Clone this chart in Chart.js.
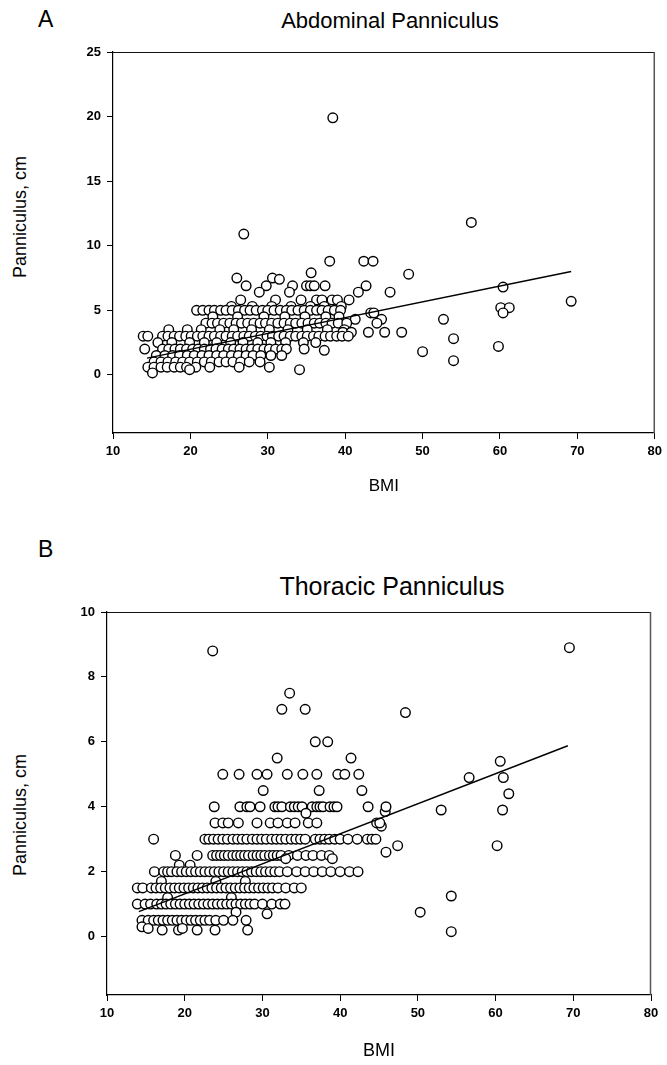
<!DOCTYPE html>
<html>
<head>
<meta charset="utf-8">
<script src="https://cdn.jsdelivr.net/npm/chart.js@4/dist/chart.umd.min.js"></script>
<style>
  html, body { margin: 0; padding: 0; background: #fff; }
  body { width: 667px; height: 1065px; position: relative; overflow: hidden; font-family: "Liberation Sans", Arial, sans-serif; color: #000; }
  .panel { position: absolute; }
  .lbl { position: absolute; white-space: nowrap; line-height: 1; }
  .ytitle { position: absolute; white-space: nowrap; line-height: 1; transform: translate(-50%, -50%) rotate(-90deg); font-size: 18px; }
</style>
</head>
<body>
<div class="lbl" id="letterA" style="left:38px; top:8px; font-size:23px;">A</div>
<div class="lbl" id="titleA" style="left:390px; top:10px; font-size:22px; transform:translateX(-50%);">Abdominal Panniculus</div>
<div class="ytitle" style="left:20px; top:217px;">Panniculus, cm</div>
<div class="panel" style="left:0; top:0; width:667px; height:500px;"><canvas id="chartA" width="667" height="500"></canvas></div>

<div class="lbl" id="letterB" style="left:38px; top:538px; font-size:23px;">B</div>
<div class="lbl" id="titleB" style="left:392px; top:574px; font-size:25px; transform:translateX(-50%);">Thoracic Panniculus</div>
<div class="ytitle" style="left:20px; top:815px;">Panniculus, cm</div>
<div class="panel" style="left:0; top:560px; width:667px; height:505px;"><canvas id="chartB" width="667" height="505"></canvas></div>

<script>
// ---------- tick labels ----------
const bmiTicks = [10, 20, 30, 40, 50, 60, 70, 80];
const abdTicks = [0, 5, 10, 15, 20, 25];
const thorTicks = [0, 2, 4, 6, 8, 10];

// ---------- A: Abdominal panniculus (BMI, cm) ----------
const abdOutliers = [
  [38.4, 19.9], [56.3, 11.8], [26.9, 10.9], [38.0, 8.8], [42.4, 8.8], [43.6, 8.8],
  [48.2, 7.8], [35.6, 7.9], [60.4, 6.8], [69.2, 5.7], [60.1, 5.2], [61.2, 5.2],
  [60.4, 4.8], [52.7, 4.3], [54.0, 2.8], [59.8, 2.2], [50.0, 1.8], [54.0, 1.1],
  [45.8, 6.4], [47.3, 3.3], [45.1, 3.3], [44.7, 4.3], [44.1, 4.0]
];
const abdUpper = [
  [26.0, 7.5], [30.6, 7.5], [31.5, 7.4],
  [27.2, 6.9], [29.8, 6.9], [33.2, 6.9], [35.0, 6.9], [35.5, 6.9], [36.0, 6.9], [37.4, 6.9], [42.7, 6.9],
  [28.9, 6.4], [32.8, 6.4], [41.7, 6.4],
  [26.5, 5.8], [31.0, 5.8], [34.3, 5.8], [36.3, 5.8], [37.0, 5.8], [38.3, 5.8], [39.0, 5.8], [40.5, 5.8],
  [25.3, 5.3], [28.0, 5.3], [30.5, 5.3], [33.0, 5.3], [35.5, 5.3], [37.3, 5.3], [39.5, 5.3],
  [20.8, 5], [21.6, 5], [22.4, 5], [23.1, 5], [23.9, 5], [24.6, 5], [25.4, 5], [26.2, 5], [27.0, 5],
  [27.7, 5], [28.5, 5], [29.3, 5], [30.0, 5], [30.8, 5], [31.6, 5], [32.4, 5], [33.1, 5], [33.9, 5],
  [34.7, 5], [35.5, 5], [36.3, 5], [37.0, 5], [37.8, 5], [38.6, 5], [39.4, 5],
  [43.3, 4.8], [43.7, 4.8],
  [22.9, 4.5], [26.1, 4.5], [29.5, 4.5], [32.2, 4.5], [34.8, 4.5], [37.5, 4.5], [39.2, 4.5], [41.3, 4.3],
  [22.0, 4], [22.8, 4], [23.5, 4], [24.3, 4], [25.1, 4], [25.9, 4], [26.6, 4], [27.4, 4], [28.2, 4],
  [29.0, 4], [29.7, 4], [30.5, 4], [31.3, 4], [32.1, 4], [32.9, 4], [33.6, 4], [34.4, 4], [35.2, 4],
  [36.0, 4], [36.7, 4], [37.5, 4], [38.3, 4], [39.1, 4], [40.2, 4]
];
const abdLower = [
  [17.2, 3.5], [19.6, 3.5], [21.4, 3.5], [23.8, 3.5], [25.6, 3.5], [27.9, 3.5], [30.2, 3.5],
  [32.6, 3.5], [35.1, 3.5], [37.7, 3.5], [39.9, 3.5],
  [39.7, 3.3], [40.8, 3.3], [43.0, 3.3],
  [13.9, 3], [14.5, 3], [16.4, 3], [17.1, 3], [17.9, 3], [18.6, 3], [19.4, 3], [20.1, 3], [20.9, 3],
  [21.6, 3], [22.4, 3], [23.1, 3], [23.9, 3], [24.6, 3], [25.4, 3], [26.1, 3], [26.9, 3], [27.6, 3],
  [28.4, 3], [29.1, 3], [29.9, 3], [30.6, 3], [31.4, 3], [32.1, 3], [32.9, 3], [33.6, 3], [34.4, 3],
  [35.1, 3], [35.9, 3], [36.6, 3], [37.4, 3], [38.1, 3], [38.9, 3], [39.6, 3], [40.4, 3],
  [15.8, 2.5], [17.6, 2.5], [19.9, 2.5], [21.8, 2.5], [23.4, 2.5], [25.2, 2.5], [26.8, 2.5],
  [28.7, 2.5], [30.4, 2.5], [32.3, 2.5], [34.6, 2.5], [36.2, 2.5],
  [14.1, 2], [16.4, 2], [17.2, 2], [18.0, 2], [18.7, 2], [19.5, 2], [20.3, 2], [21.0, 2], [21.8, 2],
  [22.6, 2], [23.3, 2], [24.1, 2], [24.9, 2], [25.6, 2], [26.4, 2], [27.2, 2], [27.9, 2], [28.7, 2],
  [29.5, 2], [30.2, 2], [31.0, 2], [31.8, 2], [32.4, 2], [34.7, 2], [37.3, 1.9],
  [15.6, 1.5], [16.7, 1.5], [17.7, 1.5], [18.6, 1.5], [19.6, 1.5], [20.5, 1.5], [21.5, 1.5],
  [22.4, 1.5], [23.4, 1.5], [24.3, 1.5], [25.3, 1.5], [26.2, 1.5], [27.2, 1.5], [28.1, 1.5],
  [29.1, 1.5], [30.4, 1.5], [31.8, 1.5],
  [15.3, 1], [16.2, 1], [17.1, 1], [18.1, 1], [19.0, 1], [19.9, 1], [20.9, 1], [21.8, 1], [22.7, 1],
  [23.7, 1], [24.6, 1], [25.5, 1], [26.5, 1], [27.6, 1], [29.0, 1],
  [14.5, 0.6], [15.3, 0.6], [16.2, 0.6], [17.0, 0.6], [17.9, 0.6], [18.7, 0.6], [19.5, 0.6],
  [20.7, 0.6], [22.5, 0.6], [26.3, 0.6], [30.2, 0.6],
  [19.9, 0.4], [34.1, 0.4], [15.1, 0.15]
];
const abdFitX = [14.4, 69.2];
const abdFitY = [1.3, 8.0];

// ---------- B: Thoracic panniculus (BMI, cm) ----------
const thorOutliers = [
  [23.6, 8.8], [69.5, 8.9], [33.5, 7.5], [32.5, 7.0], [35.5, 7.0], [48.4, 6.9],
  [36.8, 6.0], [38.4, 6.0], [31.9, 5.5], [41.4, 5.5], [60.6, 5.4], [56.6, 4.9], [61.0, 4.9],
  [61.7, 4.4], [53.0, 3.9], [60.9, 3.9], [45.8, 3.85], [45.3, 3.4], [47.4, 2.8], [60.2, 2.8],
  [45.9, 2.6], [54.3, 1.25], [50.3, 0.75], [54.3, 0.15]
];
const thorUpper = [
  [24.9, 5], [27.0, 5], [29.3, 5], [30.6, 5], [33.2, 5], [35.2, 5], [37.0, 5], [39.7, 5], [40.6, 5], [42.4, 5],
  [30.1, 4.5], [37.3, 4.5], [42.8, 4.5],
  [23.8, 4], [27.1, 4], [28.0, 4], [28.4, 4], [29.7, 4], [31.6, 4], [32.0, 4], [32.5, 4], [33.6, 4],
  [34.1, 4], [34.6, 4], [35.1, 4], [36.4, 4], [37.0, 4], [37.4, 4], [37.8, 4], [38.7, 4], [39.2, 4],
  [39.6, 4], [43.6, 4], [45.9, 4], [35.6, 3.8],
  [23.9, 3.5], [24.9, 3.5], [25.6, 3.5], [26.9, 3.5], [29.3, 3.5], [31.0, 3.5], [32.0, 3.5],
  [33.2, 3.5], [34.2, 3.5], [35.9, 3.5], [37.0, 3.5], [44.7, 3.5], [45.1, 3.5],
  [16.0, 3], [22.6, 3], [23.1, 3], [23.7, 3], [24.3, 3], [24.9, 3], [25.5, 3], [26.2, 3], [26.8, 3],
  [27.4, 3], [28.0, 3], [28.7, 3], [29.3, 3], [29.9, 3], [30.5, 3], [31.2, 3], [31.8, 3], [32.4, 3],
  [33.0, 3], [33.7, 3], [34.3, 3], [34.9, 3], [35.5, 3], [36.8, 3], [37.4, 3], [38.0, 3], [38.6, 3],
  [39.3, 3], [40.0, 3], [41.0, 3], [42.2, 3], [43.5, 3], [44.1, 3], [44.6, 3]
];
const thorLower = [
  [18.8, 2.5], [21.6, 2.5], [23.6, 2.5], [24.1, 2.5], [24.6, 2.5], [25.1, 2.5], [25.6, 2.5], [26.2, 2.5],
  [26.7, 2.5], [27.2, 2.5], [27.7, 2.5], [28.2, 2.5], [28.8, 2.5], [29.3, 2.5], [29.8, 2.5], [30.3, 2.5],
  [30.9, 2.5], [31.4, 2.5], [31.9, 2.5], [32.4, 2.5], [33.4, 2.5], [34.5, 2.5], [35.6, 2.5], [36.5, 2.5],
  [37.6, 2.5], [38.6, 2.5], [39.0, 2.4], [33.0, 2.4], [19.3, 2.2], [20.7, 2.2],
  [16.1, 2], [17.3, 2], [17.8, 2], [18.3, 2], [19.0, 2], [19.6, 2], [20.2, 2], [20.8, 2], [21.4, 2],
  [22.0, 2], [22.6, 2], [23.2, 2], [23.8, 2], [24.4, 2], [25.0, 2], [25.6, 2], [26.2, 2], [26.8, 2],
  [27.4, 2], [28.0, 2], [28.6, 2], [29.2, 2], [29.8, 2], [30.4, 2], [31.0, 2], [31.6, 2], [32.2, 2],
  [33.2, 2], [34.4, 2], [35.5, 2], [36.6, 2], [37.7, 2], [38.8, 2], [40.0, 2], [41.2, 2], [42.3, 2],
  [17.0, 1.7], [24.0, 1.7], [27.8, 1.7],
  [13.9, 1.5], [14.6, 1.5], [15.7, 1.5], [16.3, 1.5], [16.9, 1.5], [17.5, 1.5], [18.1, 1.5], [18.7, 1.5],
  [19.3, 1.5], [19.9, 1.5], [20.5, 1.5], [21.1, 1.5], [21.7, 1.5], [22.3, 1.5], [22.9, 1.5], [23.5, 1.5],
  [24.1, 1.5], [24.7, 1.5], [25.3, 1.5], [25.9, 1.5], [26.5, 1.5], [27.1, 1.5], [27.7, 1.5], [28.3, 1.5],
  [28.9, 1.5], [29.5, 1.5], [30.1, 1.5], [30.7, 1.5], [31.3, 1.5], [32.0, 1.5], [33.0, 1.5], [34.1, 1.5],
  [35.0, 1.5], [17.8, 1.2], [26.0, 1.2],
  [13.9, 1], [14.9, 1], [15.6, 1], [16.4, 1], [17.0, 1], [17.6, 1], [18.2, 1], [18.8, 1], [19.4, 1],
  [20.0, 1], [20.6, 1], [21.2, 1], [21.8, 1], [22.4, 1], [23.0, 1], [23.6, 1], [24.2, 1], [24.8, 1],
  [25.4, 1], [26.0, 1], [26.6, 1], [27.2, 1], [27.8, 1], [28.4, 1], [29.0, 1], [30.0, 1], [31.2, 1],
  [32.3, 1], [32.9, 1], [30.6, 0.7], [26.6, 0.75],
  [14.5, 0.5], [15.3, 0.5], [16.0, 0.5], [16.6, 0.5], [17.2, 0.5], [17.8, 0.5], [18.4, 0.5], [19.0, 0.5],
  [19.6, 0.5], [20.2, 0.5], [20.8, 0.5], [21.4, 0.5], [22.0, 0.5], [22.6, 0.5], [23.2, 0.5], [24.0, 0.5],
  [25.0, 0.5], [26.2, 0.5], [27.9, 0.5],
  [14.5, 0.3], [15.3, 0.25], [17.1, 0.2], [19.2, 0.2], [19.7, 0.25], [21.6, 0.2], [23.9, 0.2], [28.1, 0.2]
];
const thorFitX = [14.1, 69.3];
const thorFitY = [0.77, 5.88];

// ---------- chart builder ----------
const FONT = '"Liberation Sans", Arial, sans-serif';

const framePlugin = {
  id: 'frame',
  afterDraw(chart) {
    const {ctx, chartArea: a} = chart;
    ctx.save();
    ctx.lineWidth = 1.2;
    ctx.strokeStyle = '#111';
    ctx.beginPath();
    ctx.moveTo(a.left, a.top + 0.5);
    ctx.lineTo(a.right, a.top + 0.5);
    ctx.stroke();
    ctx.lineWidth = 1.5;
    ctx.strokeStyle = '#555';
    ctx.beginPath();
    ctx.moveTo(a.right - 0.5, a.top);
    ctx.lineTo(a.right - 0.5, a.bottom);
    ctx.stroke();
    ctx.restore();
  }
};

function toXY(pairs) { return pairs.map(p => ({x: p[0], y: p[1]})); }

function makeChart(id, cfg) {
  const pts = [].concat(cfg.outliers, cfg.upper, cfg.lower);
  return new Chart(document.getElementById(id), {
    type: 'scatter',
    data: {
      datasets: [
        {
          type: 'line',
          label: 'Regression',
          data: cfg.fitX.map((x, i) => ({x: x, y: cfg.fitY[i]})),
          borderColor: '#000',
          borderWidth: 1.4,
          pointRadius: 0,
          fill: false,
          tension: 0
        },
        {
          label: 'Patients',
          data: toXY(pts),
          pointRadius: 4.8,
          pointBorderWidth: 1.4,
          pointBackgroundColor: '#fff',
          pointBorderColor: '#000',
          showLine: false
        }
      ]
    },
    options: {
      responsive: false,
      animation: false,
      devicePixelRatio: 1,
      layout: { padding: { top: cfg.padTop, right: cfg.padRight, left: 0, bottom: 0 } },
      plugins: { legend: { display: false }, tooltip: { enabled: false }, title: { display: false } },
      scales: {
        x: {
          type: 'linear',
          min: 10, max: 80,
          afterFit: s => { s.height = cfg.xHeight; },
          afterBuildTicks: s => { s.ticks = bmiTicks.map(v => ({value: v})); },
          grid: { drawOnChartArea: false, drawTicks: true, tickLength: 6, color: '#000', tickWidth: 1 },
          border: { display: true, color: '#000', width: 1.2 },
          ticks: { color: '#000', font: { family: FONT, size: 13, weight: 'bold' }, padding: 5, maxRotation: 0, autoSkip: false },
          title: { display: true, text: 'BMI', color: '#000', font: { family: FONT, size: cfg.bmiSize }, padding: { top: 0, bottom: cfg.bmiPad } }
        },
        y: {
          type: 'linear',
          min: cfg.yMin, max: cfg.yMax,
          afterFit: s => { s.width = cfg.yWidth; },
          afterBuildTicks: s => { s.ticks = cfg.yTicks.map(v => ({value: v})); },
          grid: { drawOnChartArea: false, drawTicks: true, tickLength: 6, color: '#000', tickWidth: 1 },
          border: { display: true, color: '#000', width: 1.2 },
          ticks: { color: '#000', font: { family: FONT, size: 13, weight: 'bold' }, padding: 6, autoSkip: false },
          title: { display: false }
        }
      }
    },
    plugins: [framePlugin]
  });
}

makeChart('chartA', {
  outliers: abdOutliers, upper: abdUpper, lower: abdLower,
  fitX: abdFitX, fitY: abdFitY,
  yMin: -4.5, yMax: 25, yTicks: abdTicks,
  padTop: 52, padRight: 10, yWidth: 113, xHeight: 67, bmiSize: 17, bmiPad: 3
});
makeChart('chartB', {
  outliers: thorOutliers, upper: thorUpper, lower: thorLower,
  fitX: thorFitX, fitY: thorFitY,
  yMin: -1.8, yMax: 10, yTicks: thorTicks,
  padTop: 52, padRight: 16, yWidth: 107, xHeight: 70, bmiSize: 18, bmiPad: 3
});
</script>
</body>
</html>
